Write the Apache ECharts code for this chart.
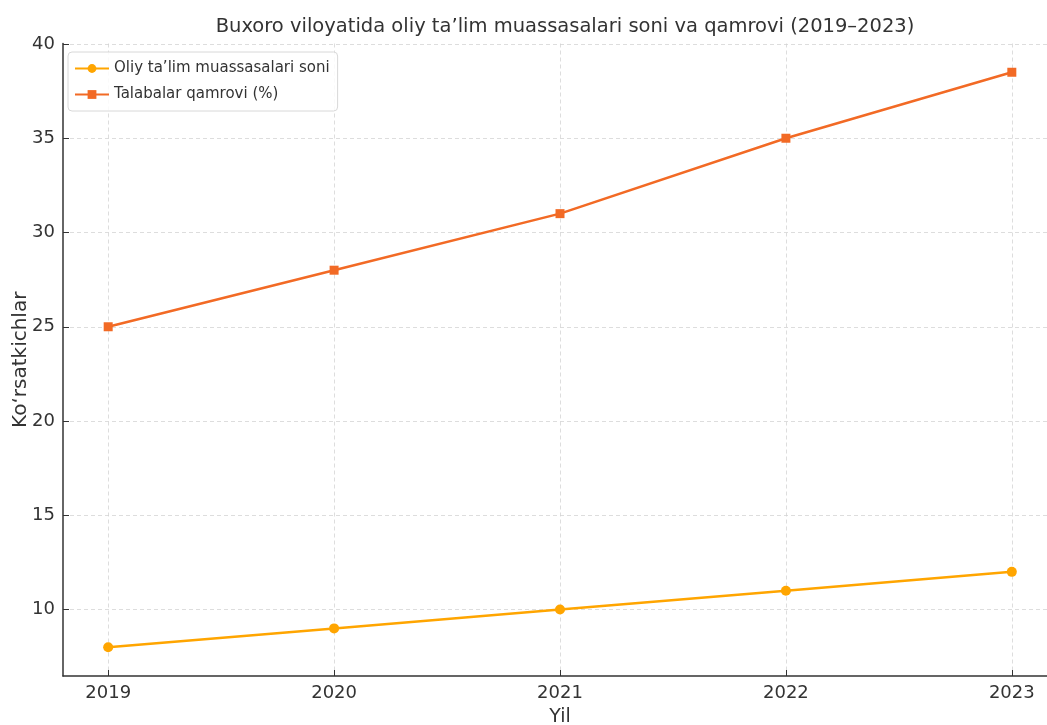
<!DOCTYPE html>
<html><head><meta charset="utf-8">
<script src="https://cdn.jsdelivr.net/npm/echarts@6/dist/echarts.min.js"></script>
<style>html,body{margin:0;padding:0;background:#fff}#c{width:1047px;height:725px}</style>
</head><body><div id="c"></div>
<script>
const years = [2019, 2020, 2021, 2022, 2023];
const institutions = [8, 9, 10, 11, 12];
const coverage = [25, 28, 31, 35, 38.5];
const yTicks = [10, 15, 20, 25, 30, 35, 40];
const title = 'Buxoro viloyatida oliy ta’lim muassasalari soni va qamrovi (2019–2023)';
const seriesNames = ['Oliy ta’lim muassasalari soni', 'Talabalar qamrovi (%)'];

const font = 'DejaVu Sans';
const chart = echarts.init(document.getElementById('c'));
const gridLine = {show: true, lineStyle: {color: '#d4d4d4', type: [4, 3], width: 0.8}};
chart.setOption({
  animation: false,
  textStyle: {fontFamily: font},
  title: {text: title, left: 560, textAlign: 'center', top: 12,
    textStyle: {fontFamily: font, fontSize: 19.5, fontWeight: 'normal', color: '#333'}},
  legend: {
    left: 68, top: 52, orient: 'vertical', itemGap: 11,
    backgroundColor: 'rgba(255,255,255,0.85)', borderColor: '#d8d8d8', borderWidth: 1, borderRadius: 4,
    padding: [9, 8, 9, 6], itemWidth: 34, itemHeight: 11,
    textStyle: {fontFamily: font, fontSize: 15, color: '#333'},
    data: seriesNames
  },
  grid: {left: 63, right: -10, top: 43.5, bottom: 49, outerBoundsMode: 'none', containLabel: false},
  xAxis: {
    type: 'value', min: 2018.8, max: 2023.2,
    name: 'Yil', nameLocation: 'middle', nameGap: 32, nameMoveOverlap: false,
    nameTextStyle: {fontFamily: font, fontSize: 19, color: '#333'},
    axisLine: {show: true, lineStyle: {color: '#333', width: 1.5}},
    axisTick: {show: true, inside: true, length: 6, lineStyle: {color: '#333'}, customValues: years},
    axisLabel: {fontFamily: font, fontSize: 18, color: '#333', margin: 8, customValues: years, formatter: v => String(v)},
    splitLine: gridLine
  },
  yAxis: {
    type: 'value', min: 6.475, max: 40.025,
    name: 'Ko‘rsatkichlar', nameLocation: 'middle', nameGap: 32, nameRotate: 90, nameMoveOverlap: false,
    nameTextStyle: {fontFamily: font, fontSize: 20, color: '#333'},
    axisLine: {show: true, lineStyle: {color: '#333', width: 1.5}},
    axisTick: {show: true, inside: true, length: 6, lineStyle: {color: '#333'}, customValues: yTicks},
    axisLabel: {fontFamily: font, fontSize: 18, color: '#333', margin: 8, customValues: yTicks},
    splitLine: gridLine
  },
  series: [
    {name: seriesNames[0], type: 'line', data: years.map((y, i) => [y, institutions[i]]),
     color: '#ffa500', symbol: 'circle', symbolSize: 10, lineStyle: {width: 2.5}},
    {name: seriesNames[1], type: 'line', data: years.map((y, i) => [y, coverage[i]]),
     color: '#f26a25', symbol: 'rect', symbolSize: 9, lineStyle: {width: 2.5}}
  ]
});
</script></body></html>
